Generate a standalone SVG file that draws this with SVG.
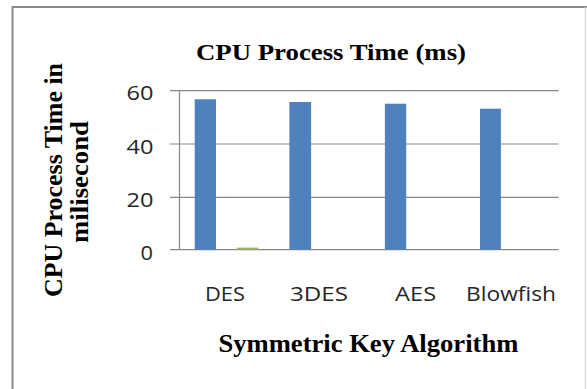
<svg xmlns="http://www.w3.org/2000/svg" width="587" height="389" viewBox="0 0 587 389">
  <style>
    .frame { stroke: #8a8a8a; stroke-width: 2; fill: none; }
    .grid { stroke: #878787; stroke-width: 1.2; fill: none; }
    .bar { fill: #4f81bd; }
    .bar2 { fill: #9bbb59; }
    .tick { font-family: "Open Sans", "Liberation Sans", sans-serif; font-size: 19.5px; fill: #262626; }
    .title { font-family: "Liberation Serif", "Times New Roman", serif; font-weight: bold; fill: #000; }
  </style>
  <rect width="587" height="389" fill="#ffffff"/>

  <!-- outer chart frame -->
  <g id="frame">
    <path class="frame" d="M12.5,389 V7 H587"/>
    <line x1="585.5" y1="7" x2="585.5" y2="389" stroke="#dcdcdc" stroke-width="1.5"/>
  </g>

  <g id="title">
    <text class="title" x="331" y="59.5" font-size="24" text-anchor="middle" textLength="270" lengthAdjust="spacingAndGlyphs">CPU Process Time (ms)</text>
  </g>

  <!-- gridlines and axes -->
  <g id="connectors">
    <line class="grid" x1="170" y1="90.7" x2="558.6" y2="90.7"/>
    <line class="grid" x1="170" y1="144" x2="558.6" y2="144"/>
    <line class="grid" x1="170" y1="197.3" x2="558.6" y2="197.3"/>
    <line class="grid" x1="170" y1="249.6" x2="558.6" y2="249.6"/>
    <line class="grid" x1="179.5" y1="90.7" x2="179.5" y2="249.6"/>
  </g>

  <g id="y-ticks">
    <text class="tick" x="153.5" y="100.3" text-anchor="end" textLength="27" lengthAdjust="spacingAndGlyphs">60</text>
    <text class="tick" x="153.5" y="153.6" text-anchor="end" textLength="27" lengthAdjust="spacingAndGlyphs">40</text>
    <text class="tick" x="153.5" y="206.9" text-anchor="end" textLength="27" lengthAdjust="spacingAndGlyphs">20</text>
    <text class="tick" x="153" y="259.8" text-anchor="end" textLength="12.5" lengthAdjust="spacingAndGlyphs">0</text>
  </g>

  <g id="bar-des">
    <rect class="bar" x="194.7" y="99.3" width="21.3" height="150.3"/>
    <rect class="bar2" x="236.8" y="247.6" width="21.4" height="2"/>
    <text class="tick" x="225" y="301" text-anchor="middle" textLength="40" lengthAdjust="spacingAndGlyphs">DES</text>
  </g>
  <g id="bar-3des">
    <rect class="bar" x="289.4" y="102" width="21.7" height="147.6"/>
    <text class="tick" x="319" y="301" text-anchor="middle" textLength="58" lengthAdjust="spacingAndGlyphs">3DES</text>
  </g>
  <g id="bar-aes">
    <rect class="bar" x="384.9" y="103.7" width="21.3" height="145.9"/>
    <text class="tick" x="415.6" y="301" text-anchor="middle" textLength="41" lengthAdjust="spacingAndGlyphs">AES</text>
  </g>
  <g id="bar-blowfish">
    <rect class="bar" x="480" y="108.7" width="20.9" height="140.9"/>
    <text class="tick" x="511" y="301" text-anchor="middle" textLength="90" lengthAdjust="spacingAndGlyphs">Blowfish</text>
  </g>

  <g id="x-axis-title">
    <text class="title" x="368.4" y="351.5" font-size="25" text-anchor="middle" textLength="300" lengthAdjust="spacingAndGlyphs">Symmetric Key Algorithm</text>
  </g>

  <g id="y-axis-title">
    <text class="title" font-size="25.5" text-anchor="middle" transform="translate(61.8,180) rotate(-90)" textLength="234" lengthAdjust="spacingAndGlyphs">CPU Process Time in</text>
    <text class="title" font-size="25.5" text-anchor="middle" transform="translate(88.3,182) rotate(-90)" textLength="122" lengthAdjust="spacingAndGlyphs">milisecond</text>
  </g>
</svg>
